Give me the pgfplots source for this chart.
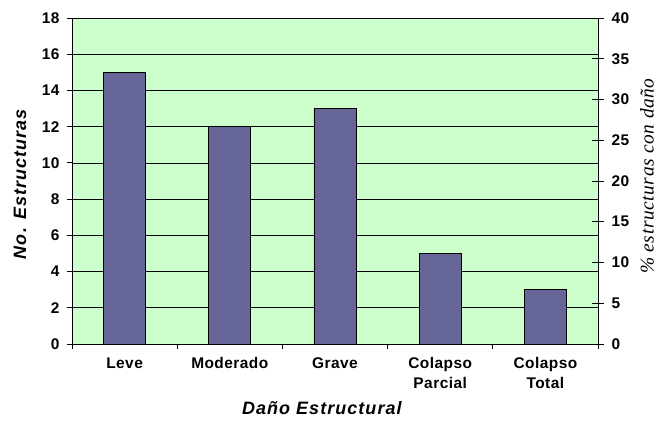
\documentclass[border=0pt]{standalone}
\usepackage{fontspec}
\setmainfont{Liberation Sans}
\newfontfamily\tickfont{Liberation Sans}[LetterSpace=3]
\newfontfamily\lblfont{Liberation Sans}[LetterSpace=6]
\newfontfamily\serlbl{Liberation Serif}[LetterSpace=3]
\usepackage{pgfplots}
\pgfplotsset{compat=1.18}
\definecolor{plotbg}{HTML}{CCFFCC}
\definecolor{barfill}{HTML}{666699}

\begin{document}
\begin{tikzpicture}
% primary axis: number of structures
\begin{axis}[
  name=ax,
  scale only axis, width=526bp, height=326bp,
  xmin=0.5, xmax=5.5, ymin=0, ymax=18,
  axis x line*=bottom, axis y line*=left,
  axis line style={black, line width=0.8bp, -},
  axis background/.style={fill=plotbg},
  ytick={0,2,...,18},
  ymajorgrids, grid style={black, line width=0.6bp},
  xtick={0.5,1.5,...,5.5},
  xticklabels={Leve,Moderado,Grave,{Colapso\\Parcial},{Colapso\\Total}},
  x tick label as interval,
  tick align=outside, major tick length=5bp,
  tick style={black, line width=0.8bp},
  /pgf/number format/assume math mode=true,
  ticklabel style={font=\tickfont\fontsize{15.5}{20}\selectfont\bfseries},
  xticklabel style={align=center, yshift=-5bp},
  yticklabel style={xshift=-4bp},
  ylabel={No. Estructuras},
  ylabel style={font=\lblfont\fontsize{18}{20}\selectfont\bfseries\itshape,
    at={(axis description cs:-0.099,0.49)}, anchor=center},
  xlabel={Daño Estructural},
  xlabel style={font=\lblfont\fontsize{18}{20}\selectfont\bfseries\itshape,
    at={(axis description cs:0.475,-0.196)}, anchor=center},
]
\addplot[ybar, bar width=0.4, fill=barfill, draw=black, line width=0.8bp]
  coordinates {(1,15) (2,12) (3,13) (4,5) (5,3)};
\end{axis}
% secondary axis: percentage
\begin{axis}[
  scale only axis, width=526bp, height=326bp,
  xmin=0.5, xmax=5.5, ymin=0, ymax=40,
  axis x line=none, axis y line*=right,
  axis line style={black, line width=0.8bp, -},
  ytick={0,5,...,40},
  tick align=center, major tick length=12bp,
  tick style={black, line width=0.8bp},
  /pgf/number format/assume math mode=true,
  yticklabel style={font=\tickfont\fontsize{15.5}{20}\selectfont\bfseries, xshift=4bp},
  ylabel={\% estructuras con daño},
  ylabel style={font=\serlbl\fontsize{19.5}{22}\selectfont\itshape,
    at={(axis description cs:1.093,0.515)}, anchor=center, inner sep=0pt},
]
\end{axis}
\pgfresetboundingbox
\path[use as bounding box] ([xshift=-72bp,yshift=-80bp]ax.south west)
  rectangle ([xshift=61bp,yshift=18bp]ax.north east);
\end{tikzpicture}
\end{document}
